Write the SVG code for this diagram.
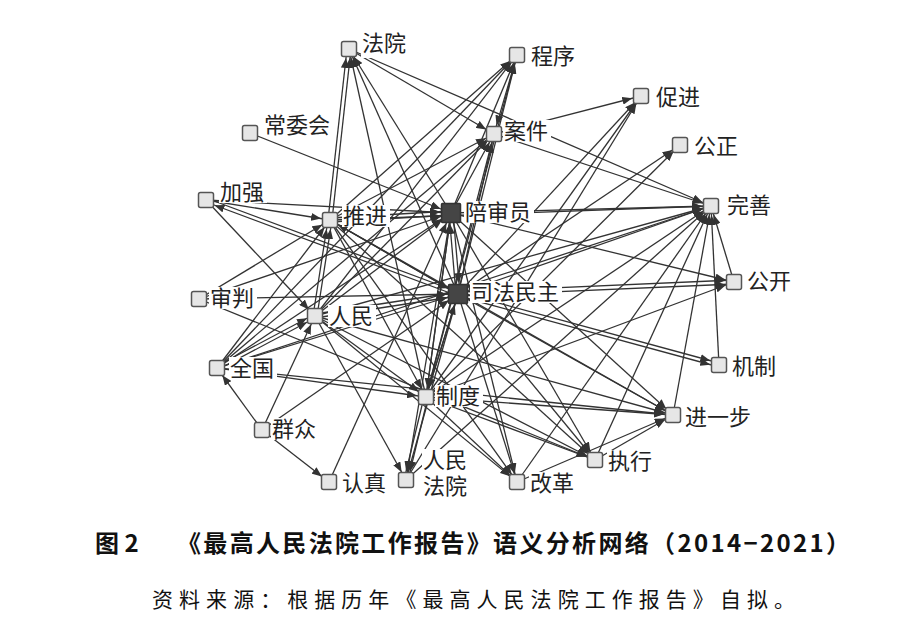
<svg xmlns="http://www.w3.org/2000/svg" width="919" height="629" viewBox="0 0 919 629">
<style>
.e{stroke:#333;stroke-width:1.3;fill:none;marker-end:url(#a)}
.d{stroke:#333;stroke-width:1.3;fill:none;marker-end:url(#b)}
.n{fill:#e6e6e6;stroke:#555;stroke-width:1.5}
.k{fill:#454545;stroke:#333;stroke-width:1.5}
.bg{fill:#fff}
.t{font-family:"Noto Sans CJK SC","Liberation Serif",serif;font-size:22px;fill:#222}
.t2{font-family:"Liberation Serif","Noto Sans CJK SC",serif;font-size:22px;fill:#222}
.cap{font-family:"Noto Sans CJK SC","Liberation Sans",sans-serif;font-weight:bold;font-size:24px;fill:#111}
.src{font-family:"Noto Sans CJK SC","Liberation Serif",serif;font-size:21px;fill:#111}
</style>
<defs>
<marker id="a" markerUnits="userSpaceOnUse" markerWidth="10" markerHeight="8" viewBox="0 0 10 8" refX="19" refY="4" orient="auto"><path d="M0,0 L10,4 L0,8 z" fill="#333"/></marker>
<marker id="b" markerUnits="userSpaceOnUse" markerWidth="10" markerHeight="8" viewBox="0 0 10 8" refX="21" refY="4" orient="auto"><path d="M0,0 L10,4 L0,8 z" fill="#333"/></marker>
</defs>
<rect width="919" height="629" fill="#fff"/>
<g id="connectors">
<line class="e" x1="328" y1="220" x2="347" y2="49"/>
<line class="e" x1="332" y1="220" x2="351" y2="49"/>
<line class="d" x1="330" y1="218" x2="451" y2="211"/>
<line class="d" x1="330" y1="222" x2="451" y2="215"/>
<line class="e" x1="313" y1="316" x2="328" y2="220"/>
<line class="e" x1="317" y1="316" x2="332" y2="220"/>
<line class="e" x1="217" y1="366" x2="315" y2="314"/>
<line class="e" x1="217" y1="370" x2="315" y2="318"/>
<line class="e" x1="458" y1="292" x2="734" y2="280"/>
<line class="e" x1="458" y1="296" x2="734" y2="284"/>
<line class="e" x1="458" y1="292" x2="719" y2="363"/>
<line class="e" x1="458" y1="296" x2="719" y2="367"/>
<line class="e" x1="424" y1="397" x2="404" y2="480"/>
<line class="e" x1="428" y1="397" x2="408" y2="480"/>
<line class="d" x1="206" y1="198" x2="458" y2="292"/>
<line class="e" x1="458" y1="296" x2="206" y2="202"/>
<line class="d" x1="315" y1="314" x2="458" y2="292"/>
<line class="d" x1="315" y1="318" x2="458" y2="296"/>
<line class="e" x1="451" y1="213" x2="711" y2="206"/>
<line class="e" x1="458" y1="294" x2="711" y2="206"/>
<line class="e" x1="315" y1="316" x2="711" y2="206"/>
<line class="e" x1="217" y1="368" x2="711" y2="206"/>
<line class="e" x1="330" y1="220" x2="711" y2="206"/>
<line class="e" x1="494" y1="134" x2="711" y2="206"/>
<line class="e" x1="349" y1="49" x2="711" y2="206"/>
<line class="e" x1="426" y1="397" x2="711" y2="206"/>
<line class="e" x1="595" y1="460" x2="711" y2="206"/>
<line class="e" x1="517" y1="482" x2="711" y2="206"/>
<line class="e" x1="673" y1="415" x2="711" y2="206"/>
<line class="e" x1="406" y1="480" x2="711" y2="206"/>
<line class="e" x1="734" y1="282" x2="711" y2="206"/>
<line class="e" x1="719" y1="365" x2="711" y2="206"/>
<line class="e" x1="458" y1="294" x2="349" y2="49"/>
<line class="e" x1="451" y1="213" x2="349" y2="49"/>
<line class="e" x1="426" y1="397" x2="349" y2="49"/>
<line class="e" x1="349" y1="49" x2="494" y2="134"/>
<line class="e" x1="451" y1="213" x2="517" y2="55"/>
<line class="e" x1="458" y1="294" x2="517" y2="55"/>
<line class="e" x1="426" y1="397" x2="517" y2="55"/>
<line class="e" x1="330" y1="220" x2="517" y2="55"/>
<line class="e" x1="315" y1="316" x2="517" y2="55"/>
<line class="e" x1="217" y1="368" x2="517" y2="55"/>
<line class="e" x1="517" y1="55" x2="494" y2="134"/>
<line class="e" x1="451" y1="213" x2="494" y2="134"/>
<line class="e" x1="458" y1="294" x2="494" y2="134"/>
<line class="e" x1="330" y1="220" x2="494" y2="134"/>
<line class="e" x1="315" y1="316" x2="494" y2="134"/>
<line class="e" x1="426" y1="397" x2="494" y2="134"/>
<line class="e" x1="217" y1="368" x2="494" y2="134"/>
<line class="e" x1="494" y1="134" x2="641" y2="96"/>
<line class="e" x1="458" y1="294" x2="641" y2="96"/>
<line class="e" x1="426" y1="397" x2="641" y2="96"/>
<line class="e" x1="406" y1="480" x2="641" y2="96"/>
<line class="e" x1="458" y1="294" x2="680" y2="145"/>
<line class="e" x1="426" y1="397" x2="680" y2="145"/>
<line class="d" x1="250" y1="133" x2="451" y2="213"/>
<line class="e" x1="206" y1="200" x2="330" y2="220"/>
<line class="d" x1="206" y1="200" x2="451" y2="213"/>
<line class="e" x1="206" y1="200" x2="315" y2="316"/>
<line class="d" x1="199" y1="299" x2="458" y2="294"/>
<line class="d" x1="199" y1="299" x2="451" y2="213"/>
<line class="e" x1="199" y1="299" x2="330" y2="220"/>
<line class="e" x1="199" y1="299" x2="595" y2="460"/>
<line class="d" x1="315" y1="316" x2="451" y2="213"/>
<line class="e" x1="315" y1="316" x2="426" y2="397"/>
<line class="e" x1="315" y1="316" x2="406" y2="480"/>
<line class="e" x1="315" y1="316" x2="517" y2="482"/>
<line class="e" x1="315" y1="316" x2="595" y2="460"/>
<line class="e" x1="315" y1="316" x2="673" y2="415"/>
<line class="e" x1="217" y1="368" x2="330" y2="220"/>
<line class="d" x1="217" y1="368" x2="451" y2="213"/>
<line class="d" x1="217" y1="368" x2="458" y2="294"/>
<line class="e" x1="217" y1="368" x2="426" y2="397"/>
<line class="e" x1="217" y1="368" x2="673" y2="415"/>
<line class="e" x1="262" y1="430" x2="217" y2="368"/>
<line class="e" x1="262" y1="430" x2="315" y2="316"/>
<line class="d" x1="262" y1="430" x2="458" y2="294"/>
<line class="e" x1="262" y1="430" x2="329" y2="482"/>
<line class="d" x1="329" y1="482" x2="451" y2="213"/>
<line class="e" x1="451" y1="213" x2="426" y2="397"/>
<line class="e" x1="451" y1="213" x2="406" y2="480"/>
<line class="e" x1="451" y1="213" x2="517" y2="482"/>
<line class="e" x1="451" y1="213" x2="673" y2="415"/>
<line class="e" x1="451" y1="213" x2="595" y2="460"/>
<line class="e" x1="451" y1="213" x2="734" y2="282"/>
<line class="d" x1="453" y1="213" x2="460" y2="294"/>
<line class="d" x1="456" y1="294" x2="449" y2="213"/>
<line class="e" x1="458" y1="294" x2="426" y2="397"/>
<line class="e" x1="458" y1="294" x2="406" y2="480"/>
<line class="e" x1="458" y1="294" x2="517" y2="482"/>
<line class="e" x1="458" y1="294" x2="595" y2="460"/>
<line class="e" x1="458" y1="294" x2="673" y2="415"/>
<line class="e" x1="458" y1="294" x2="330" y2="220"/>
<line class="e" x1="426" y1="397" x2="673" y2="415"/>
<line class="e" x1="426" y1="397" x2="595" y2="460"/>
<line class="e" x1="426" y1="397" x2="517" y2="482"/>
<line class="d" x1="426" y1="397" x2="451" y2="213"/>
<line class="d" x1="426" y1="397" x2="458" y2="294"/>
<line class="e" x1="426" y1="397" x2="734" y2="282"/>
<line class="e" x1="595" y1="460" x2="673" y2="415"/>
<line class="e" x1="517" y1="482" x2="673" y2="415"/>
<line class="d" x1="330" y1="220" x2="458" y2="294"/>
<line class="e" x1="330" y1="220" x2="426" y2="397"/>
<line class="e" x1="330" y1="220" x2="595" y2="460"/>
<line class="e" x1="330" y1="220" x2="673" y2="415"/>
<line class="e" x1="330" y1="220" x2="517" y2="482"/>
</g>
<g id="n-fayuan"><rect class="bg" x="361" y="36" width="48" height="22"/><text class="t" x="362" y="51">法院</text><rect class="n" x="341.5" y="41.5" width="15" height="15" rx="2"/></g>
<g id="n-chengxu"><rect class="bg" x="530" y="45" width="48" height="22"/><text class="t" x="531" y="64">程序</text><rect class="n" x="509.5" y="47.5" width="15" height="15" rx="2"/></g>
<g id="n-cujin"><rect class="bg" x="655" y="86" width="48" height="22"/><text class="t" x="656" y="105">促进</text><rect class="n" x="633.5" y="88.5" width="15" height="15" rx="2"/></g>
<g id="n-changweihui"><rect class="bg" x="263" y="114" width="70" height="22"/><text class="t" x="264" y="133">常委会</text><rect class="n" x="242.5" y="125.5" width="15" height="15" rx="2"/></g>
<g id="n-anjian"><rect class="bg" x="503" y="120" width="48" height="22"/><text class="t" x="504" y="139">案件</text><rect class="n" x="486.5" y="126.5" width="15" height="15" rx="2"/></g>
<g id="n-gongzheng"><rect class="bg" x="693" y="135" width="48" height="22"/><text class="t" x="694" y="154">公正</text><rect class="n" x="672.5" y="137.5" width="15" height="15" rx="2"/></g>
<g id="n-jiaqiang"><rect class="bg" x="219" y="181" width="48" height="22"/><text class="t" x="220" y="200">加强</text><rect class="n" x="198.5" y="192.5" width="15" height="15" rx="2"/></g>
<g id="n-tuijin"><rect class="bg" x="342" y="205" width="48" height="22"/><text class="t" x="343" y="224">推进</text><rect class="n" x="322.5" y="212.5" width="15" height="15" rx="2"/></g>
<g id="n-peishenyuan"><rect class="bg" x="464" y="201" width="70" height="22"/><text class="t" x="465" y="220">陪审员</text><rect class="k" x="441.5" y="203.5" width="19" height="19" rx="1"/></g>
<g id="n-wanshan"><rect class="bg" x="726" y="194" width="48" height="22"/><text class="t" x="727" y="213">完善</text><rect class="n" x="703.5" y="198.5" width="15" height="15" rx="2"/></g>
<g id="n-shenpan"><rect class="bg" x="209" y="287" width="48" height="22"/><text class="t" x="210" y="306">审判</text><rect class="n" x="191.5" y="291.5" width="15" height="15" rx="2"/></g>
<g id="n-sifaminzhu"><rect class="bg" x="470" y="281" width="92" height="22"/><text class="t" x="471" y="300">司法民主</text><rect class="k" x="448.5" y="284.5" width="19" height="19" rx="1"/></g>
<g id="n-gongkai"><rect class="bg" x="746" y="270" width="48" height="22"/><text class="t" x="747" y="289">公开</text><rect class="n" x="726.5" y="274.5" width="15" height="15" rx="2"/></g>
<g id="n-renmin"><rect class="bg" x="328" y="305" width="48" height="22"/><text class="t" x="329" y="324">人民</text><rect class="n" x="307.5" y="308.5" width="15" height="15" rx="2"/></g>
<g id="n-quanguo"><rect class="bg" x="229" y="357" width="48" height="22"/><text class="t" x="230" y="376">全国</text><rect class="n" x="209.5" y="360.5" width="15" height="15" rx="2"/></g>
<g id="n-jizhi"><rect class="bg" x="731" y="355" width="48" height="22"/><text class="t" x="732" y="374">机制</text><rect class="n" x="711.5" y="357.5" width="15" height="15" rx="2"/></g>
<g id="n-zhidu"><rect class="bg" x="435" y="385" width="48" height="22"/><text class="t" x="436" y="404">制度</text><rect class="n" x="418.5" y="389.5" width="15" height="15" rx="2"/></g>
<g id="n-jinyibu"><rect class="bg" x="684" y="406" width="70" height="22"/><text class="t" x="685" y="425">进一步</text><rect class="n" x="665.5" y="407.5" width="15" height="15" rx="2"/></g>
<g id="n-qunzhong"><rect class="bg" x="271" y="418" width="48" height="22"/><text class="t" x="272" y="437">群众</text><rect class="n" x="254.5" y="422.5" width="15" height="15" rx="2"/></g>
<g id="n-zhixing"><rect class="bg" x="607" y="450" width="48" height="22"/><text class="t" x="608" y="469">执行</text><rect class="n" x="587.5" y="452.5" width="15" height="15" rx="2"/></g>
<g id="n-renzhen"><rect class="bg" x="341" y="472" width="48" height="22"/><text class="t" x="342" y="491">认真</text><rect class="n" x="321.5" y="474.5" width="15" height="15" rx="2"/></g>
<g id="n-renminfayuan"><rect class="bg" x="422" y="449" width="48" height="48"/><text class="t2"><tspan x="423" y="468">人民</tspan><tspan x="423" y="494">法院</tspan></text><rect class="n" x="398.5" y="472.5" width="15" height="15" rx="2"/></g>
<g id="n-gaige"><rect class="bg" x="529" y="472" width="48" height="22"/><text class="t" x="530" y="491">改革</text><rect class="n" x="509.5" y="474.5" width="15" height="15" rx="2"/></g>
<g id="caption">
<text class="cap" x="95" y="552">图 2</text>
<text class="cap" x="177" y="552" textLength="673" lengthAdjust="spacing">《最高人民法院工作报告》语义分析网络（2014−2021）</text>
<text class="src" x="152" y="607" textLength="643" lengthAdjust="spacing">资料来源：根据历年《最高人民法院工作报告》自拟。</text>
</g>
</svg>
